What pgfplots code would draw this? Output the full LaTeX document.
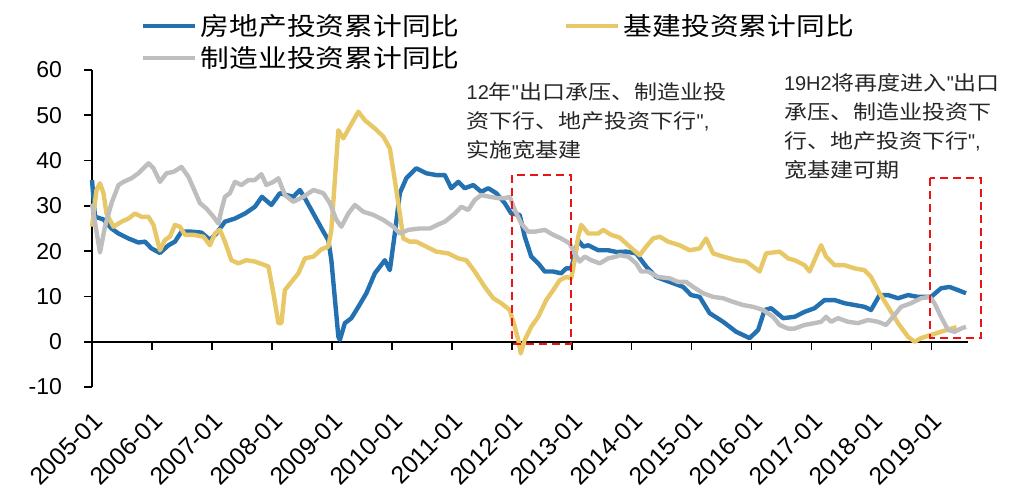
\documentclass[border=0pt]{standalone}
\usepackage{fontspec}
\setmainfont{Liberation Sans}
\newfontfamily\cjk{Noto Sans CJK SC}[FakeStretch=1.15]
\usepackage{pgfplots}
\pgfplotsset{compat=1.18}

\definecolor{reblue}{RGB}{36,113,178}
\definecolor{infra}{RGB}{232,200,102}
\definecolor{mfg}{RGB}{190,190,190}
\definecolor{boxred}{RGB}{235,20,20}

\begin{document}
\begin{tikzpicture}
\path[use as bounding box] (-46pt,-56.5pt) rectangle (461pt,193.5pt);
\begin{axis}[
  at={(0pt,0pt)}, anchor=south west,
  scale only axis, width=438pt, height=158.5pt,
  xmin=0, xmax=175.3, ymin=-10, ymax=60,
  axis x line=middle, axis y line=left,
  x axis line style={-}, y axis line style={-},
  axis line style={black, line width=0.8pt},
  tick align=outside, major tick length=4pt,
  tick style={black, line width=0.8pt},
  hide obscured x ticks=false, hide obscured y ticks=false,
  xtick={0,12,...,168},
  xticklabels={2005-01,2006-01,2007-01,2008-01,2009-01,2010-01,2011-01,2012-01,2013-01,2014-01,2015-01,2016-01,2017-01,2018-01,2019-01},
  ytick={-10,0,...,60},
  /pgf/number format/assume math mode=true,
  yticklabel style={font=\fontsize{11.5}{13}\selectfont, xshift=-7.5pt},
  xticklabel style={font=\fontsize{12.3}{14}\selectfont, xshift=0pt, yshift=-25.6pt, rotate=45, anchor=north east},
  clip=false,
  legend columns=2,
  legend cell align=left,
  legend style={at={(axis description cs:0.0548,1.19)}, anchor=north west,
    draw=none, fill=none, inner sep=0pt,
    font=\cjk\fontsize{12.5}{15}\selectfont,
    /tikz/every even column/.append style={column sep=50pt}},
  legend image code/.code={\draw[#1] (0pt,0pt) -- (26pt,0pt);},
]
% 房地产投资累计同比
\addplot[reblue, line width=2.2pt, line join=round, mark=none] coordinates {
(0,35.7) (0.6,27.6) (2.3,27.0) (3.9,25.0) (5.3,23.9) (7.3,22.8) (9.3,21.9) (10.6,22.1)
(11.9,20.6) (13.6,19.6) (15.3,21.3) (16.6,22.1) (17.9,24.3) (19.9,24.3) (21.9,24.1)
(23.6,22.5) (24.9,23.9) (26.6,26.5) (28.6,27.2) (30.6,28.3) (32.6,29.8) (34.0,32.0)
(35.9,30.2) (37.6,32.8) (38.9,32.4) (40.3,32.0) (41.6,33.5) (42.6,31.7) (44.3,28.3)
(46.3,24.3) (47.3,22.4) (47.9,18.0) (49.3,1.1) (49.6,0.4) (50.6,4.1) (51.9,5.2)
(53.3,7.7) (54.9,10.7) (56.6,15.1) (58.6,18.0) (59.6,15.8) (60.6,23.9) (61.6,32.8)
(62.9,36.1) (64.9,38.3) (66.9,37.2) (68.9,36.8) (70.6,36.8) (71.9,33.9) (73.3,35.3)
(74.6,33.9) (76.3,34.6) (77.9,33.1) (79.3,33.9) (80.9,32.8) (82.6,30.6) (83.9,28.3)
(85.6,28.0) (86.6,23.2) (87.9,18.8) (89.3,17.3) (90.6,15.5) (92.3,15.5) (93.9,15.1)
(94.9,16.2) (95.9,16.2) (97.3,22.4) (98.3,21.0) (99.3,21.3) (101.3,20.2) (103.3,20.2)
(105.0,19.8) (106.9,19.9) (108.9,19.5) (110.9,16.6) (112.9,14.3) (115.6,13.2)
(118.3,12.1) (119.9,10.3) (121.6,9.9) (123.6,6.3) (126.3,4.4) (128.9,2.2) (131.6,0.8)
(133.3,2.6) (134.6,7.0) (135.9,7.4) (138.3,5.2) (140.6,5.5) (142.6,6.6) (144.6,7.4)
(146.6,9.2) (148.6,9.2) (150.6,8.5) (152.6,8.1) (154.6,7.7) (155.9,7.0) (157.6,10.3)
(159.3,10.3) (161.3,9.6) (163.3,10.3) (165.3,9.9) (167.9,9.9) (169.9,11.8) (171.6,12.1)
(173.3,11.4) (174.9,10.7)
};
\addlegendentry{房地产投资累计同比}
% 基建投资累计同比
\addplot[infra, line width=2.2pt, line join=round, mark=none] coordinates {
(0,25.4) (0.9,33.5) (1.6,35.0) (2.3,32.8) (2.9,28.3) (4.3,25.4) (5.9,26.5) (7.3,27.2)
(8.6,28.3) (9.9,27.6) (11.3,27.6) (12.3,25.8) (13.6,20.2) (14.6,22.5) (15.6,23.2)
(16.6,25.8) (17.6,25.4) (18.6,23.6) (20.3,23.6) (22.3,23.2) (23.6,21.3) (24.6,23.9)
(25.6,24.7) (26.6,22.1) (27.9,18.0) (29.3,17.3) (30.9,18.0) (32.6,17.7) (34.6,16.9)
(35.3,16.6) (36.3,10.7) (37.3,4.1) (37.9,4.1) (38.6,11.4) (39.9,13.2) (41.3,15.1)
(42.6,18.4) (44.3,18.8) (45.9,20.4) (47.3,21.0) (47.9,24.7) (49.3,46.7) (50.3,44.9)
(51.6,47.5) (53.3,50.8) (54.6,48.9) (56.6,47.1) (58.3,45.3) (59.6,42.7) (60.6,35.7)
(61.6,28.3) (62.3,22.8) (63.6,22.1) (64.9,22.1) (66.9,21.0) (68.9,19.9) (71.3,19.5)
(73.3,18.4) (74.9,18.0) (76.6,15.5) (78.6,12.1) (80.3,9.6) (81.9,8.5) (83.6,7.0)
(84.6,3.3) (85.3,0.4) (85.8,-2.6) (86.6,0.4) (87.9,3.3) (89.3,5.5) (90.9,9.2) (92.3,11.4)
(93.6,13.6) (94.9,14.3) (95.9,14.0) (96.6,18.0) (97.3,23.2) (97.9,25.8) (99.3,23.9)
(101.3,23.9) (102.3,24.7) (103.9,23.6) (105.6,23.0) (107.6,21.0) (109.6,19.1)
(110.9,21.0) (112.3,22.8) (113.6,23.2) (115.3,22.1) (117.6,21.3) (119.6,20.2)
(121.6,20.6) (122.9,22.8) (124.3,19.5) (126.3,18.8) (128.9,18.0) (130.9,17.7)
(132.3,16.6) (133.6,15.5) (134.9,19.5) (137.6,19.9) (139.3,18.4) (140.6,18.0)
(142.6,16.9) (143.6,15.5) (144.9,18.8) (145.9,21.3) (146.9,18.8) (148.6,16.9)
(150.6,16.9) (152.6,16.2) (154.6,15.8) (155.9,14.3) (157.6,10.7) (159.3,7.7) (161.3,4.1)
(163.3,1.1) (164.6,0.0) (165.9,0.8) (167.9,1.5) (169.9,2.2) (171.9,2.9) (173.0,3.2)
};
\addlegendentry{基建投资累计同比}
% 制造业投资累计同比
\addplot[mfg, line width=2.2pt, line join=round, mark=none] coordinates {
(0,30.5) (0.8,25.0) (1.6,19.7) (2.6,25.4) (3.9,30.6) (5.3,34.6) (6.3,35.3) (7.9,36.1)
(9.3,37.2) (11.3,39.4) (12.3,38.3) (13.6,35.3) (14.9,37.2) (16.3,37.5) (17.9,38.6)
(19.3,36.4) (20.3,33.9) (21.6,30.6) (22.9,29.4) (24.3,27.6) (25.3,26.1) (25.9,29.1)
(26.6,32.0) (27.6,32.8) (28.6,35.3) (29.9,34.6) (31.3,35.7) (32.6,35.7) (33.9,37.0)
(34.9,34.6) (36.3,35.3) (37.3,36.1) (38.6,32.4) (40.3,30.9) (42.3,32.0) (44.3,33.5)
(46.3,32.8) (47.6,30.6) (48.9,26.9) (49.9,25.4) (51.3,28.3) (52.6,30.2) (54.3,28.7)
(56.3,28.0) (58.3,26.9) (60.3,25.4) (61.6,23.9) (63.3,24.7) (65.6,25.0) (67.6,25.0)
(69.5,26.0) (70.6,26.5) (72.6,28.3) (73.9,29.8) (75.3,29.1) (76.6,31.3) (77.9,32.4)
(79.6,32.0) (81.3,31.7) (82.6,31.7) (83.6,32.0) (84.6,29.1) (85.9,26.1) (87.3,24.3)
(88.6,24.3) (90.6,24.7) (92.3,23.6) (93.9,22.8) (95.6,21.7) (96.6,19.5) (97.6,17.7)
(98.6,18.8) (99.9,18.0) (101.6,17.3) (103.3,18.4) (104.9,18.8) (105.6,19.1) (107.3,18.8)
(108.9,17.3) (109.9,15.5) (111.3,15.5) (113.3,14.3) (115.6,14.0) (117.3,13.2)
(118.9,13.2) (120.3,12.1) (122.3,10.7) (124.3,9.9) (126.3,9.6) (128.3,8.8) (130.3,8.1)
(132.3,7.7) (134.3,7.0) (136.3,5.5) (137.6,3.7) (139.3,2.9) (140.6,2.9) (142.6,3.7)
(144.6,4.1) (145.9,4.4) (146.9,5.5) (147.9,4.4) (149.3,5.2) (151.3,4.4) (153.3,4.1)
(155.3,4.8) (157.3,4.4) (158.9,3.7) (160.6,5.9) (161.9,7.7) (163.9,8.5) (165.9,9.6)
(167.6,9.9) (168.6,8.5) (169.9,5.5) (171.3,2.6) (172.6,2.2) (173.9,2.9) (174.9,3.3)
};
\addlegendentry{制造业投资累计同比}

\draw[boxred, dash pattern=on 4pt off 2.5pt, line width=1pt]
  (axis cs:84.1,36.8) rectangle (axis cs:95.9,-0.4);
\draw[boxred, dash pattern=on 4pt off 2.5pt, line width=1pt]
  (axis cs:167.7,36.1) rectangle (axis cs:177.9,0.9);

\node[anchor=north west, inner sep=0pt, align=left, text=black!85,
      font=\fontsize{10}{14.5}\selectfont] at (axis cs:74.9,57.3)
  {12{\cjk 年}\textquotedbl{\cjk 出口承压、制造业投}\\{\cjk 资下行、地产投资下行}\textquotedbl,\\{\cjk 实施宽基建}};
\node[anchor=north west, inner sep=0pt, align=left, text=black!85,
      font=\fontsize{10}{14.5}\selectfont] at (axis cs:138.4,59.3)
  {19H2{\cjk 将再度进入}\textquotedbl{\cjk 出口}\\{\cjk 承压、制造业投资下}\\{\cjk 行、地产投资下行}\textquotedbl,\\{\cjk 宽基建可期}};
\end{axis}
\end{tikzpicture}
\end{document}
